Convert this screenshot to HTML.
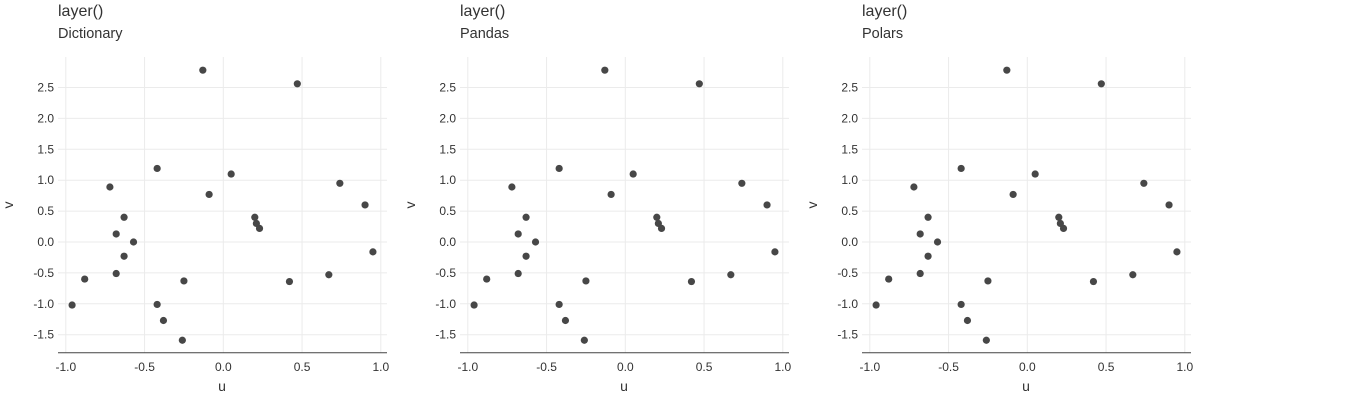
<!DOCTYPE html>
<html><head><meta charset="utf-8"><style>
body{margin:0;background:#fff;font-family:"Liberation Sans",sans-serif;}
svg text{font-family:"Liberation Sans",sans-serif;}
</style></head><body>
<svg id="chart" width="1361" height="400" xmlns="http://www.w3.org/2000/svg"></svg>
<script>
const panelTitles = ["Dictionary","Pandas","Polars"];
const xTicks = [-1.0,-0.5,0.0,0.5,1.0];
const yTicks = [-1.5,-1.0,-0.5,0.0,0.5,1.0,1.5,2.0,2.5];
const uValues = [-0.13,0.47,-0.42,0.05,-0.72,0.74,-0.09,0.90,-0.63,0.20,0.21,0.23,-0.68,-0.57,-0.63,0.95,-0.68,-0.88,0.67,-0.25,0.42,-0.96,-0.42,-0.38,-0.26];
const vValues = [2.78,2.56,1.19,1.10,0.89,0.95,0.77,0.60,0.40,0.40,0.30,0.22,0.13,0.0,-0.23,-0.16,-0.51,-0.60,-0.53,-0.63,-0.64,-1.02,-1.01,-1.27,-1.59];
const svg = document.getElementById('chart');
const NS = "http://www.w3.org/2000/svg";
function mk(tag, attrs, parent){const e=document.createElementNS(NS,tag);for(const k in attrs)e.setAttribute(k,attrs[k]);parent.appendChild(e);return e;}
panelTitles.forEach((t,p)=>{
  const off = p*402;
  const g = mk('g',{},svg);
  
  
  const sx = u => off + 223.3 + u*157.5;
  const sy = v => 242 - v*61.8;
  const left = off+58, right = off+387, top = 57, bottom = 352.7;
  const t1 = mk('text',{x:left,y:16,'font-size':16,fill:'#333'},g); t1.textContent='layer()';
  
  
  const t2 = mk('text',{x:left,y:38,'font-size':14.5,fill:'#333'},g); t2.textContent=t;
  
  
  xTicks.forEach(x=>{
    const l=mk('line',{x1:sx(x),x2:sx(x),y1:top,y2:bottom,stroke:'#ebebeb','stroke-width':1},g);
    
    
    const tx=mk('text',{x:sx(x),y:371,'font-size':12,fill:'#333','text-anchor':'middle'},g);
    tx.textContent=x.toFixed(1);
    
    
  });
  yTicks.forEach(y=>{
    const l=mk('line',{x1:left,x2:right,y1:sy(y),y2:sy(y),stroke:'#ebebeb','stroke-width':1},g);
    
    
    const ty=mk('text',{x:left-4,y:sy(y)+4,'font-size':12,fill:'#333','text-anchor':'end'},g);
    ty.textContent=y.toFixed(1);
    
    
  });
  const ax=mk('line',{x1:left,x2:right,y1:bottom,y2:bottom,stroke:'#444','stroke-width':1},g);
  
  
  const xl=mk('text',{x:off+222,y:391,'font-size':14,fill:'#333','text-anchor':'middle'},g);
  xl.textContent='u';
  
  
  const yl=mk('text',{x:0,y:0,'font-size':14,fill:'#333','text-anchor':'middle',transform:`translate(${off+13},205) rotate(-90)`},g);
  yl.textContent='v';
  
  
  uValues.forEach((u,i)=>{
    const c=mk('circle',{cx:sx(u),cy:sy(vValues[i]),r:3.6,fill:'#474747'},g);
    
    
  });
});
</script>
</body></html>
